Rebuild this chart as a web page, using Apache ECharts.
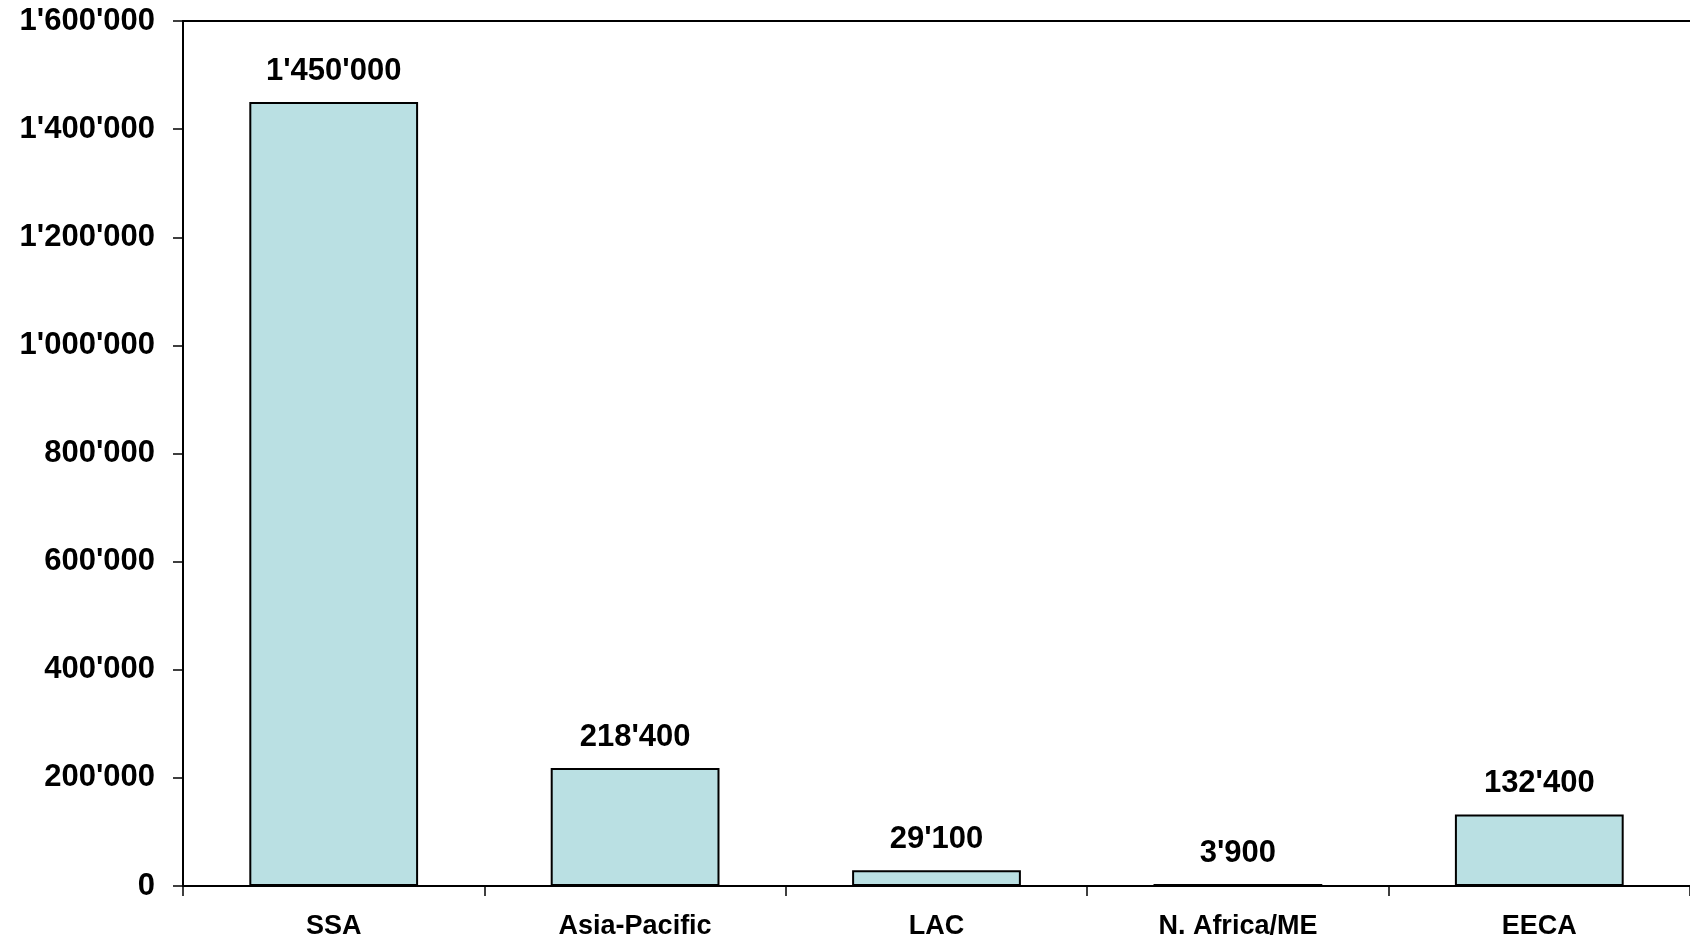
<!DOCTYPE html>
<html>
<head>
<meta charset="utf-8">
<script src="https://cdn.jsdelivr.net/npm/echarts@6/dist/echarts.min.js"></script>
<style>
  html, body { margin: 0; padding: 0; background: #ffffff; }
  #chart { width: 1690px; height: 941px; }
</style>
</head>
<body>
<div id="chart"></div>
<script>
// Regions and their totals
const regions = ['SSA', 'Asia-Pacific', 'LAC', 'N. Africa/ME', 'EECA'];
const totals = [1450000, 218400, 29100, 3900, 132400];

// Value axis range
const yMin = 0;
const yMax = 1600000;
const yStep = 200000;

// Swiss-style thousands separator: 1'450'000
function fmt(v) {
  return String(Math.round(v)).replace(/\B(?=(\d{3})+(?!\d))/g, "'");
}

const FONT = '"Liberation Sans", Arial, sans-serif';

const chart = echarts.init(document.getElementById('chart'), null, { renderer: 'canvas' });

chart.setOption({
  animation: false,
  backgroundColor: '#ffffff',
  grid: { left: 183, top: 21, width: 1510, bottom: 55, containLabel: false },
  xAxis: [
    {
      type: 'category',
      data: regions,
      position: 'bottom',
      axisLine: { show: true, lineStyle: { color: '#000', width: 2 } },
      axisTick: { show: true, alignWithLabel: false, length: 10, inside: false, lineStyle: { color: '#000', width: 1.5 } },
      axisLabel: {
        color: '#000', fontFamily: FONT, fontWeight: 'bold', fontSize: 27, margin: 27
      },
      splitLine: { show: false }
    },
    {
      // top frame line
      type: 'category',
      data: regions,
      position: 'top',
      axisLine: { show: true, lineStyle: { color: '#000', width: 2 } },
      axisTick: { show: false },
      axisLabel: { show: false }
    }
  ],
  yAxis: {
    type: 'value',
    min: yMin,
    max: yMax,
    interval: yStep,
    axisLine: { show: true, lineStyle: { color: '#000', width: 2 } },
    axisTick: { show: true, length: 10, lineStyle: { color: '#000', width: 1.5 } },
    axisLabel: {
      color: '#000', fontFamily: FONT, fontWeight: 'bold', fontSize: 31, margin: 28,
      formatter: fmt
    },
    splitLine: { show: false }
  },
  series: [
    {
      type: 'bar',
      xAxisIndex: 0,
      data: totals,
      barWidth: '56%',
      itemStyle: { color: '#BAE0E3', borderColor: '#000', borderWidth: 2 },
      label: {
        show: true,
        position: 'top',
        distance: 15,
        color: '#000',
        fontFamily: FONT,
        fontWeight: 'bold',
        fontSize: 31,
        formatter: p => fmt(p.value)
      }
    }
  ]
});
</script>
</body>
</html>
